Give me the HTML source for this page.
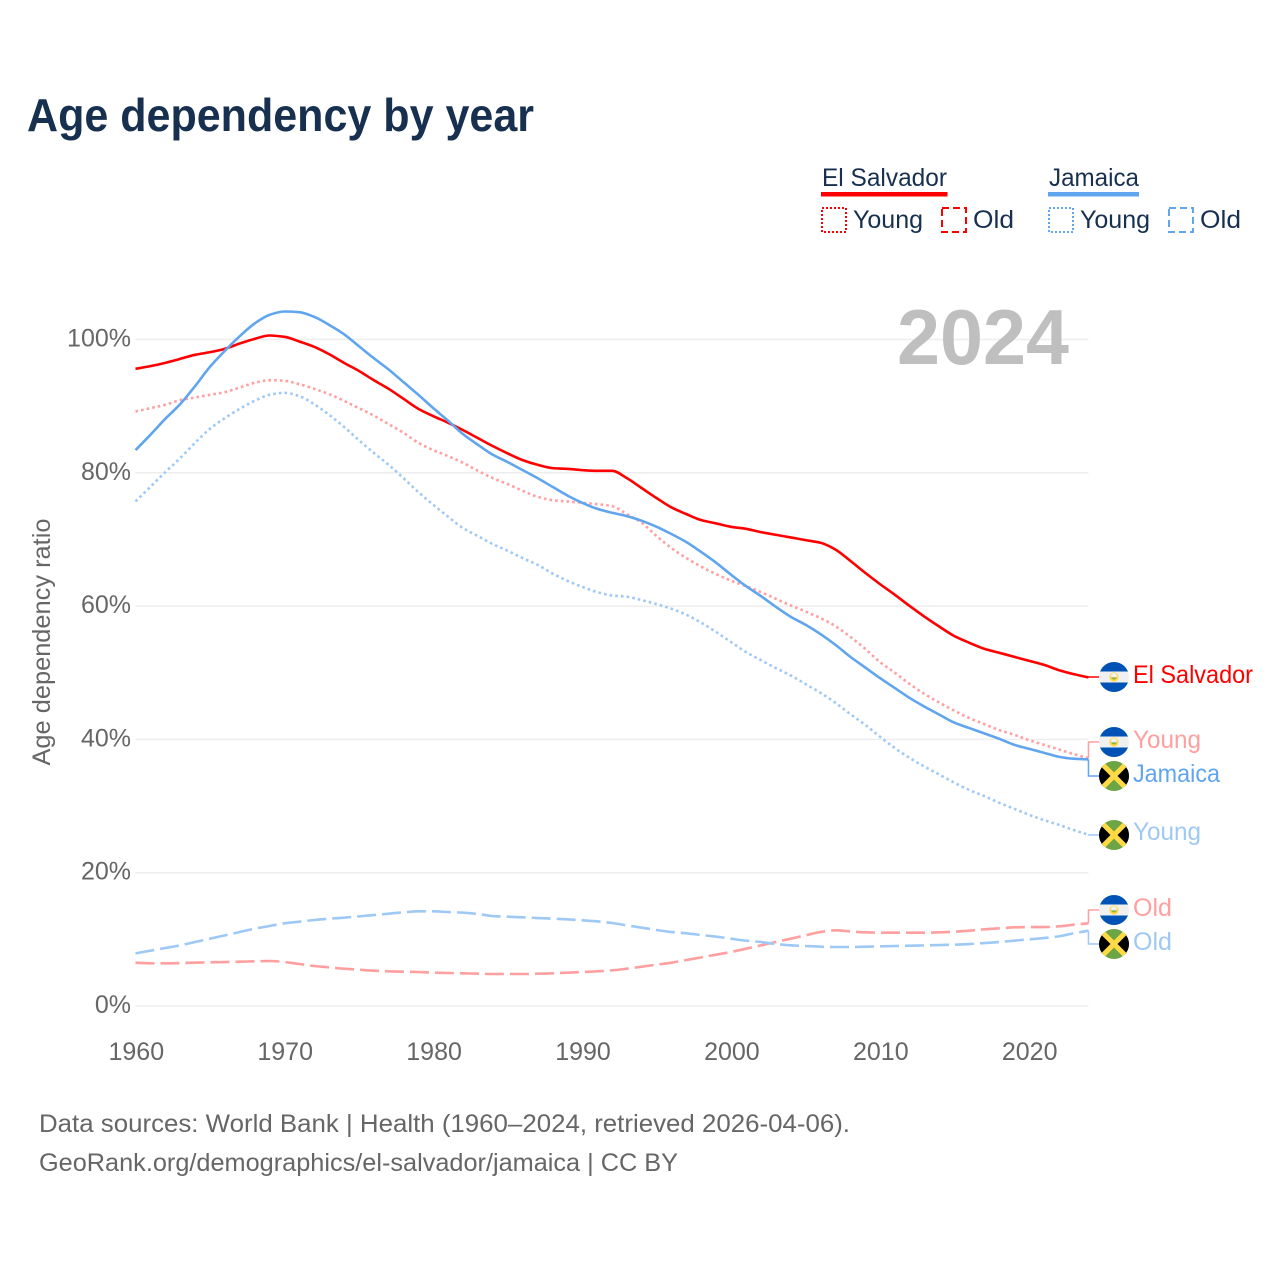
<!DOCTYPE html>
<html lang="en">
<head>
<meta charset="utf-8">
<title>Age dependency by year</title>
<style>
html,body{margin:0;padding:0;background:#fff;width:1280px;height:1280px;overflow:hidden}
svg{display:block}
text{font-family:"Liberation Sans",sans-serif}
.lg{fill:#17304f;font-size:25px}
.tk{fill:#666;font-size:25px}
.ft{fill:#666;font-size:25px}
.end{font-size:25px}
</style>
</head>
<body>
<svg id="chart" width="1280" height="1280" viewBox="0 0 1280 1280" xmlns="http://www.w3.org/2000/svg">
<defs>
<clipPath id="flag-clip"><circle cx="0" cy="0" r="15"/></clipPath>
<g id="flag-sv">
<g clip-path="url(#flag-clip)">
<rect x="-15" y="-15" width="30" height="30" fill="#f0f0f0"/>
<rect x="-15" y="-15" width="30" height="9.5" fill="#0052b4"/>
<rect x="-15" y="5.5" width="30" height="9.5" fill="#0052b4"/>
<circle r="4.6" fill="#ffda44"/>
<circle cy="-1" r="3" fill="#f0f0f0"/>
<path d="M-2.8 0.4A2.9 2.9 0 0 0 2.8 0.4Z" fill="#8fb04a"/>
</g>
</g>
<g id="flag-jm">
<g clip-path="url(#flag-clip)">
<rect x="-15" y="-15" width="30" height="30" fill="#6da544"/>
<path d="M-15 -15L0 0L-15 15Z" fill="#000"/>
<path d="M15 -15L0 0L15 15Z" fill="#000"/>
<path d="M-15 -15L15 15M15 -15L-15 15" stroke="#ffda44" stroke-width="5" fill="none"/>
</g>
</g>
</defs>

<text x="27" y="131" font-size="46" font-weight="700" fill="#17304f" textLength="507" lengthAdjust="spacingAndGlyphs">Age dependency by year</text>

<g>
<text class="lg" x="822" y="186" textLength="125" lengthAdjust="spacingAndGlyphs">El Salvador</text>
<rect x="821" y="192" width="126.5" height="4.5" fill="#ff0000"/>
<rect x="822" y="208" width="24" height="24" fill="none" stroke="#ff0000" stroke-width="2" stroke-dasharray="2 2"/>
<text class="lg" x="853" y="228" textLength="70" lengthAdjust="spacingAndGlyphs">Young</text>
<rect x="942" y="208" width="24" height="24" fill="none" stroke="#ff0000" stroke-width="2" stroke-dasharray="7 4"/>
<text class="lg" x="973" y="228" textLength="41" lengthAdjust="spacingAndGlyphs">Old</text>
<text class="lg" x="1049" y="186" textLength="90" lengthAdjust="spacingAndGlyphs">Jamaica</text>
<rect x="1048" y="192" width="91" height="4.5" fill="#60a5ee"/>
<rect x="1049" y="208" width="24" height="24" fill="none" stroke="#60a5ee" stroke-width="2" stroke-dasharray="2 2"/>
<text class="lg" x="1080" y="228" textLength="70" lengthAdjust="spacingAndGlyphs">Young</text>
<rect x="1169" y="208" width="24" height="24" fill="none" stroke="#60a5ee" stroke-width="2" stroke-dasharray="7 4"/>
<text class="lg" x="1200" y="228" textLength="41" lengthAdjust="spacingAndGlyphs">Old</text>
</g>

<text class="tk" transform="translate(50 642) rotate(-90)" text-anchor="middle" textLength="247" lengthAdjust="spacingAndGlyphs">Age dependency ratio</text>

<g id="grid"></g>
<g id="yticks"></g>
<g id="xticks"></g>

<text x="1069" y="364" text-anchor="end" font-size="78" font-weight="700" fill="#bfbfbf" textLength="172" lengthAdjust="spacingAndGlyphs">2024</text>

<g id="series"></g>
<g id="connectors"></g>

<g>
<use href="#flag-sv" x="1114" y="677"/>
<text class="end" x="1133" y="683" fill="#ff0000" textLength="120" lengthAdjust="spacingAndGlyphs">El Salvador</text>
<use href="#flag-sv" x="1114" y="742"/>
<text class="end" x="1133" y="748" fill="#ff9f9f" textLength="68" lengthAdjust="spacingAndGlyphs">Young</text>
<use href="#flag-jm" x="1114" y="776"/>
<text class="end" x="1133" y="782" fill="#60a5ee" textLength="87" lengthAdjust="spacingAndGlyphs">Jamaica</text>
<use href="#flag-jm" x="1114" y="835"/>
<text class="end" x="1133" y="840" fill="#9fc9f5" textLength="68" lengthAdjust="spacingAndGlyphs">Young</text>
<use href="#flag-sv" x="1114" y="910"/>
<text class="end" x="1133" y="916" fill="#ff9f9f" textLength="39" lengthAdjust="spacingAndGlyphs">Old</text>
<use href="#flag-jm" x="1114" y="944"/>
<text class="end" x="1133" y="950" fill="#9fc9f5" textLength="39" lengthAdjust="spacingAndGlyphs">Old</text>
</g>

<text class="ft" x="39" y="1132" textLength="811" lengthAdjust="spacingAndGlyphs">Data sources: World Bank | Health (1960–2024, retrieved 2026-04-06).</text>
<text class="ft" x="39" y="1171" textLength="639" lengthAdjust="spacingAndGlyphs">GeoRank.org/demographics/el-salvador/jamaica | CC BY</text>
</svg>
<script>
const startYear = 1960;
const yTicks = [0, 20, 40, 60, 80, 100];
const xTicks = [1960, 1970, 1980, 1990, 2000, 2010, 2020];
const elSalvadorTotal = [95.6,96.0,96.5,97.1,97.7,98.1,98.6,99.4,100.1,100.6,100.4,99.7,98.9,97.8,96.5,95.3,93.9,92.6,91.1,89.6,88.5,87.5,86.4,85.2,84.0,82.9,81.9,81.2,80.7,80.6,80.4,80.3,80.3,79.2,77.7,76.2,74.8,73.8,72.9,72.4,71.9,71.6,71.1,70.7,70.3,69.9,69.5,68.5,66.8,65.0,63.3,61.7,60.0,58.4,56.9,55.5,54.5,53.6,53.0,52.4,51.8,51.2,50.4,49.8,49.3];
const elSalvadorYoung = [89.2,89.7,90.2,90.9,91.3,91.7,92.1,92.8,93.5,93.9,93.8,93.3,92.6,91.8,90.8,89.7,88.6,87.3,86.0,84.5,83.4,82.5,81.5,80.3,79.2,78.3,77.3,76.4,75.9,75.7,75.5,75.3,75.0,73.8,72.5,70.5,68.7,67.2,65.9,64.8,63.8,63.0,62.1,61.1,60.1,59.2,58.2,57.0,55.4,53.6,51.6,50.0,48.3,46.8,45.5,44.3,43.2,42.3,41.4,40.7,39.9,39.2,38.5,37.8,37.2];
const elSalvadorOld = [6.5,6.4,6.4,6.45,6.5,6.55,6.6,6.65,6.7,6.75,6.6,6.3,6.0,5.8,5.6,5.45,5.3,5.2,5.15,5.1,5.0,4.95,4.9,4.85,4.8,4.8,4.8,4.85,4.9,5.0,5.1,5.2,5.35,5.6,5.9,6.2,6.5,6.9,7.3,7.7,8.1,8.6,9.1,9.6,10.1,10.6,11.1,11.35,11.2,11.05,11.0,11.0,11.0,11.0,11.05,11.15,11.3,11.5,11.65,11.8,11.85,11.85,11.95,12.2,12.4];
const jamaicaTotal = [83.4,85.7,88.1,90.3,93.0,95.9,98.3,100.5,102.4,103.7,104.2,104.1,103.4,102.2,100.8,99.0,97.2,95.5,93.6,91.7,89.7,87.8,85.8,84.2,82.7,81.6,80.4,79.2,77.9,76.6,75.5,74.6,74.0,73.5,72.8,71.9,70.8,69.6,68.1,66.5,64.7,63.0,61.5,59.9,58.4,57.2,55.8,54.2,52.4,50.8,49.2,47.7,46.2,44.9,43.7,42.5,41.7,40.9,40.1,39.2,38.6,38.0,37.4,37.1,37.0];
const jamaicaYoung = [75.7,77.9,80.1,82.2,84.5,86.6,88.2,89.6,90.8,91.7,92.0,91.5,90.3,88.7,86.9,84.9,83.0,81.2,79.2,77.1,75.2,73.4,71.7,70.5,69.3,68.3,67.2,66.2,64.9,63.8,62.9,62.1,61.6,61.4,60.9,60.3,59.6,58.7,57.5,56.1,54.6,53.1,51.9,50.7,49.6,48.3,47.0,45.5,43.8,42.2,40.4,38.7,37.2,35.9,34.7,33.5,32.4,31.5,30.5,29.6,28.7,27.9,27.2,26.4,25.7];
const jamaicaOld = [7.9,8.3,8.7,9.1,9.6,10.1,10.6,11.1,11.6,12.0,12.4,12.65,12.9,13.1,13.25,13.45,13.65,13.85,14.05,14.2,14.2,14.1,14.0,13.8,13.5,13.4,13.3,13.2,13.1,13.0,12.85,12.7,12.45,12.1,11.75,11.4,11.1,10.9,10.65,10.4,10.1,9.8,9.6,9.3,9.1,9.0,8.9,8.85,8.85,8.9,8.95,9.0,9.05,9.1,9.15,9.2,9.3,9.45,9.6,9.8,10.0,10.2,10.45,10.9,11.3];

const NS = 'http://www.w3.org/2000/svg';
function xScale(year) { return 135.5 + (year - 1960) * 14.89; }
function yScale(pct) { return 1006 - pct * 6.665; }

const gridLayer = document.getElementById('grid');
const yTickLayer = document.getElementById('yticks');
const xTickLayer = document.getElementById('xticks');
const seriesLayer = document.getElementById('series');
const connectorLayer = document.getElementById('connectors');

yTicks.forEach(function (t) {
  const line = document.createElementNS(NS, 'line');
  
  
  line.setAttribute('x1', xScale(1960));
  line.setAttribute('x2', xScale(2024));
  line.setAttribute('y1', yScale(t));
  line.setAttribute('y2', yScale(t));
  line.setAttribute('stroke', '#eeeeee');
  line.setAttribute('stroke-width', '1.5');
  gridLayer.appendChild(line);
  const label = document.createElementNS(NS, 'text');
  
  
  label.setAttribute('class', 'tk');
  label.setAttribute('x', 131);
  label.setAttribute('y', yScale(t) + 7);
  label.setAttribute('text-anchor', 'end');
  label.textContent = t + '%';
  yTickLayer.appendChild(label);
});

xTicks.forEach(function (t) {
  const label = document.createElementNS(NS, 'text');
  
  
  label.setAttribute('class', 'tk');
  label.setAttribute('x', xScale(t) + 0.8);
  label.setAttribute('y', 1060);
  label.setAttribute('text-anchor', 'middle');
  label.textContent = t;
  xTickLayer.appendChild(label);
});

// Monotone-X cubic path through the data points.
function smoothPath(values) {
  const pts = values.map(function (v, i) {
    return [xScale(startYear + i), yScale(v)];
  });
  const n = pts.length;
  const slopes = [];
  for (let i = 0; i < n - 1; i++) {
    slopes.push((pts[i + 1][1] - pts[i][1]) / (pts[i + 1][0] - pts[i][0]));
  }
  const tangents = [slopes[0]];
  for (let i = 1; i < n - 1; i++) {
    if (slopes[i - 1] * slopes[i] <= 0) {
      tangents.push(0);
    } else {
      tangents.push(2 * slopes[i - 1] * slopes[i] / (slopes[i - 1] + slopes[i]));
    }
  }
  tangents.push(slopes[n - 2]);
  let d = 'M' + pts[0][0].toFixed(2) + ' ' + pts[0][1].toFixed(2);
  for (let i = 0; i < n - 1; i++) {
    const h = (pts[i + 1][0] - pts[i][0]) / 3;
    d += 'C' + (pts[i][0] + h).toFixed(2) + ' ' + (pts[i][1] + tangents[i] * h).toFixed(2) +
      ' ' + (pts[i + 1][0] - h).toFixed(2) + ' ' + (pts[i + 1][1] - tangents[i + 1] * h).toFixed(2) +
      ' ' + pts[i + 1][0].toFixed(2) + ' ' + pts[i + 1][1].toFixed(2);
  }
  return d;
}

function drawSeries(values, name, color, dash) {
  const path = document.createElementNS(NS, 'path');
  
  
  path.setAttribute('d', smoothPath(values));
  path.setAttribute('fill', 'none');
  path.setAttribute('stroke', color);
  path.setAttribute('stroke-width', '2.6');
  path.setAttribute('stroke-linejoin', 'round');
  if (dash) { path.setAttribute('stroke-dasharray', dash); }
  seriesLayer.appendChild(path);
}

function drawConnector(values, labelY, name, color) {
  const last = yScale(values[values.length - 1]);
  const endX = xScale(2024);
  const path = document.createElementNS(NS, 'path');
  
  
  path.setAttribute('d', 'M' + endX + ' ' + last + 'V' + labelY + 'H1099');
  path.setAttribute('fill', 'none');
  path.setAttribute('stroke', color);
  path.setAttribute('stroke-width', '1.5');
  connectorLayer.appendChild(path);
}

drawSeries(elSalvadorYoung, 'line-el-salvador-young', '#ff9f9f', '2.6 3.1');
drawSeries(jamaicaYoung, 'line-jamaica-young', '#9fc9f5', '2.6 3.1');
drawSeries(elSalvadorOld, 'line-el-salvador-old', '#ff9f9f', '19 6');
drawSeries(jamaicaOld, 'line-jamaica-old', '#9fc9f5', '19 6');
drawSeries(elSalvadorTotal, 'line-el-salvador-total', '#ff0000', null);
drawSeries(jamaicaTotal, 'line-jamaica-total', '#60a5ee', null);

drawConnector(elSalvadorTotal, 677, 'connector-el-salvador-total', '#ff0000');
drawConnector(elSalvadorYoung, 742, 'connector-el-salvador-young', '#ff9f9f');
drawConnector(jamaicaTotal, 776, 'connector-jamaica-total', '#60a5ee');
drawConnector(jamaicaYoung, 835, 'connector-jamaica-young', '#9fc9f5');
drawConnector(elSalvadorOld, 910, 'connector-el-salvador-old', '#ff9f9f');
drawConnector(jamaicaOld, 944, 'connector-jamaica-old', '#9fc9f5');
</script>
</body>
</html>
